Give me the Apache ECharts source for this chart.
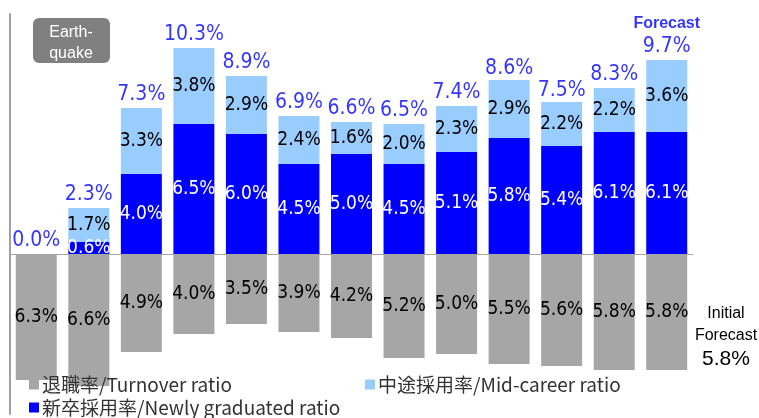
<!DOCTYPE html>
<html>
<head>
<meta charset="utf-8">
<script src="https://cdn.jsdelivr.net/npm/echarts@6/dist/echarts.min.js"></script>
<style>
html, body { margin: 0; padding: 0; background: #fff; }
#main { width: 759px; height: 418px; }
</style>
</head>
<body>
<div id="main"></div>
<script>
// 13 years, last one is the forecast
var years = ['1', '2', '3', '4', '5', '6', '7', '8', '9', '10', '11', '12', '13'];
var turnover = [6.3, 6.6, 4.9, 4.0, 3.5, 3.9, 4.2, 5.2, 5.0, 5.5, 5.6, 5.8, 5.8];
var newGrad = [0, 0.6, 4.0, 6.5, 6.0, 4.5, 5.0, 4.5, 5.1, 5.8, 5.4, 6.1, 6.1];
var midCareer = [0, 1.7, 3.3, 3.8, 2.9, 2.4, 1.6, 2.0, 2.3, 2.9, 2.2, 2.2, 3.6];
var totals = [0.0, 2.3, 7.3, 10.3, 8.9, 6.9, 6.6, 6.5, 7.4, 8.6, 7.5, 8.3, 9.7];

var numFont = '"DejaVu Sans Condensed", "Liberation Sans Narrow", sans-serif';
var jpFont = '"Noto Sans CJK JP", sans-serif';
var txtFont = '"Liberation Sans", Arial, sans-serif';

var chart = echarts.init(document.getElementById('main'));

function pct(v) {
    return Math.abs(v).toFixed(1) + '%';
}

var option = {
    animation: false,
    grid: {left: 10, width: 683, top: 14, bottom: 4},
    xAxis: {
        type: 'category',
        data: years,
        axisLine: {lineStyle: {color: '#a6a6a6', width: 1}},
        axisTick: {show: false},
        axisLabel: {show: false}
    },
    yAxis: {
        type: 'value',
        min: -8,
        max: 12,
        axisLine: {show: true, lineStyle: {color: '#a0a0a0', width: 2}},
        axisTick: {show: false},
        axisLabel: {show: false},
        splitLine: {show: false}
    },
    legend: [
        {left: 29, top: 375, data: ['退職率/Turnover ratio']},
        {left: 365, top: 375, data: ['中途採用率/Mid-career ratio']},
        {left: 29, top: 398, data: ['新卒採用率/Newly graduated ratio']}
    ].map(function(l) {
        l.icon = 'rect';
        l.itemWidth = 10;
        l.itemHeight = 10;
        l.itemGap = 4;
        l.padding = 0;
        l.selectedMode = false;
        l.textStyle = {fontFamily: jpFont, fontSize: 19, color: '#333', padding: [0, 0, 0, -2]};
        return l;
    }),
    series: [
        {
            name: '退職率/Turnover ratio',
            type: 'bar',
            stack: 'a',
            barWidth: '78%',
            itemStyle: {color: '#a6a6a6'},
            label: {
                show: true, position: 'inside', color: '#000',
                fontFamily: numFont, fontSize: 19,
                formatter: function(p) { return pct(p.value); }
            },
            data: turnover.map(function(v) { return -v; })
        },
        {
            name: '新卒採用率/Newly graduated ratio',
            type: 'bar',
            stack: 'a',
            itemStyle: {color: '#0000ff'},
            label: {
                show: true, position: 'inside', color: '#fff',
                fontFamily: numFont, fontSize: 19,
                formatter: function(p) { return p.value ? pct(p.value) : ''; }
            },
            data: newGrad
        },
        {
            name: '中途採用率/Mid-career ratio',
            type: 'bar',
            stack: 'a',
            itemStyle: {color: '#99ccff'},
            label: {
                show: true, position: 'inside', color: '#000',
                fontFamily: numFont, fontSize: 19,
                formatter: function(p) { return p.value ? pct(p.value) : ''; }
            },
            data: midCareer
        },
        {
            name: 'total',
            type: 'scatter',
            symbolSize: 0,
            silent: true,
            label: {
                show: true, position: 'top', distance: 3, color: '#0000ff',
                fontFamily: numFont, fontSize: 21,
                formatter: function(p) {
                    var s = pct(p.value);
                    return p.dataIndex === years.length - 1 ? '{f|Forecast}\n' + s : s;
                },
                rich: {
                    f: {fontFamily: txtFont, fontWeight: 'bold',
                        fontSize: 16, color: '#0000ff', lineHeight: 24}
                }
            },
            data: totals
        }
    ],
    graphic: [
        {
            type: 'rect', left: 33, top: 18,
            shape: {width: 77, height: 45, r: 6},
            style: {fill: '#808080'}
        },
        {
            type: 'text', x: 71, y: 22,
            style: {
                text: 'Earth-\nquake', fill: '#fff', align: 'center', verticalAlign: 'top',
                font: '16px "Liberation Sans", Arial, sans-serif', lineHeight: 21
            }
        },
        {
            type: 'text', x: 726, y: 303,
            style: {
                text: '{a|Initial}\n{a|Forecast}\n{b|5.8%}', align: 'center', verticalAlign: 'top',
                rich: {
                    a: {fontFamily: txtFont, fontSize: 16, color: '#111', lineHeight: 22, align: 'center'},
                    b: {fontFamily: txtFont, fontSize: 21, color: '#111', lineHeight: 24, align: 'center'}
                }
            }
        }
    ]
};

chart.setOption(option);
</script>
</body>
</html>
